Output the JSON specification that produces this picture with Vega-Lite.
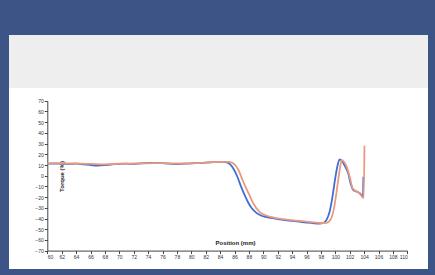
{
  "$schema": "https://vega.github.io/schema/vega-lite/v6.json",
  "background": "#3d5586",
  "padding": {"left": 9, "top": 35, "right": 7, "bottom": 6},
  "spacing": 0,
  "config": {"view": {"stroke": null}, "concat": {"spacing": 0}, "font": "Liberation Sans"},
  "vconcat": [
    {
      "width": 419,
      "height": 53,
      "view": {"fill": "#eeeeee", "stroke": null},
      "data": {"values": [{"t": ""}]},
      "mark": "text",
      "encoding": {"text": {"field": "t"}}
    },
    {
      "width": 419,
      "height": 181,
      "view": {"fill": "#ffffff", "stroke": null},
      "data": {"values": [
        {"series": "A", "position": 60, "torque": 11.2},
        {"series": "A", "position": 61, "torque": 11.4},
        {"series": "A", "position": 62, "torque": 11.3},
        {"series": "A", "position": 63, "torque": 11.0},
        {"series": "A", "position": 64, "torque": 11.2},
        {"series": "A", "position": 65, "torque": 10.6},
        {"series": "A", "position": 66, "torque": 10.0},
        {"series": "A", "position": 67, "torque": 9.4},
        {"series": "A", "position": 68, "torque": 9.8},
        {"series": "A", "position": 69, "torque": 10.6},
        {"series": "A", "position": 70, "torque": 11.0},
        {"series": "A", "position": 71, "torque": 11.2},
        {"series": "A", "position": 72, "torque": 11.0},
        {"series": "A", "position": 73, "torque": 11.6},
        {"series": "A", "position": 74, "torque": 11.8},
        {"series": "A", "position": 75, "torque": 12.0},
        {"series": "A", "position": 76, "torque": 11.8},
        {"series": "A", "position": 77, "torque": 11.2},
        {"series": "A", "position": 78, "torque": 10.8},
        {"series": "A", "position": 79, "torque": 11.3},
        {"series": "A", "position": 80, "torque": 11.6},
        {"series": "A", "position": 81, "torque": 11.8},
        {"series": "A", "position": 82, "torque": 12.2},
        {"series": "A", "position": 83, "torque": 12.6},
        {"series": "A", "position": 84, "torque": 13.0},
        {"series": "A", "position": 84.8, "torque": 12.6},
        {"series": "A", "position": 85.4, "torque": 10.5},
        {"series": "A", "position": 85.9, "torque": 6},
        {"series": "A", "position": 86.4, "torque": -1},
        {"series": "A", "position": 86.9, "torque": -10},
        {"series": "A", "position": 87.4, "torque": -18},
        {"series": "A", "position": 87.9, "torque": -25},
        {"series": "A", "position": 88.4, "torque": -30.5},
        {"series": "A", "position": 89, "torque": -34.5},
        {"series": "A", "position": 89.6, "torque": -37},
        {"series": "A", "position": 90.3, "torque": -38.5},
        {"series": "A", "position": 91, "torque": -39.5},
        {"series": "A", "position": 92, "torque": -40.5},
        {"series": "A", "position": 93, "torque": -41.5},
        {"series": "A", "position": 94, "torque": -42.2},
        {"series": "A", "position": 95, "torque": -43},
        {"series": "A", "position": 96, "torque": -43.8},
        {"series": "A", "position": 97, "torque": -44.5},
        {"series": "A", "position": 97.8, "torque": -44.8},
        {"series": "A", "position": 98.4, "torque": -44},
        {"series": "A", "position": 98.8, "torque": -41},
        {"series": "A", "position": 99.2, "torque": -34},
        {"series": "A", "position": 99.6, "torque": -20},
        {"series": "A", "position": 100, "torque": -2},
        {"series": "A", "position": 100.3, "torque": 9},
        {"series": "A", "position": 100.6, "torque": 15.3},
        {"series": "A", "position": 100.9, "torque": 14},
        {"series": "A", "position": 101.3, "torque": 9.5},
        {"series": "A", "position": 101.8, "torque": 2},
        {"series": "A", "position": 102.2, "torque": -9},
        {"series": "A", "position": 102.5, "torque": -13.5},
        {"series": "A", "position": 103, "torque": -15},
        {"series": "A", "position": 103.5, "torque": -17},
        {"series": "A", "position": 103.85, "torque": -20},
        {"series": "A", "position": 103.9, "torque": -1},
        {"series": "B", "position": 60, "torque": 11.6},
        {"series": "B", "position": 62, "torque": 11.6},
        {"series": "B", "position": 64, "torque": 11.4},
        {"series": "B", "position": 66, "torque": 11.0},
        {"series": "B", "position": 68, "torque": 10.6},
        {"series": "B", "position": 70, "torque": 11.2},
        {"series": "B", "position": 72, "torque": 11.4},
        {"series": "B", "position": 74, "torque": 11.6},
        {"series": "B", "position": 76, "torque": 11.8},
        {"series": "B", "position": 78, "torque": 11.4},
        {"series": "B", "position": 80, "torque": 11.6},
        {"series": "B", "position": 82, "torque": 12.2},
        {"series": "B", "position": 84, "torque": 13.0},
        {"series": "B", "position": 85.2, "torque": 13.0},
        {"series": "B", "position": 85.9, "torque": 11.2},
        {"series": "B", "position": 86.5, "torque": 6},
        {"series": "B", "position": 87, "torque": -2},
        {"series": "B", "position": 87.5, "torque": -10},
        {"series": "B", "position": 88, "torque": -17},
        {"series": "B", "position": 88.5, "torque": -24.5},
        {"series": "B", "position": 89, "torque": -30},
        {"series": "B", "position": 89.6, "torque": -34.5},
        {"series": "B", "position": 90.3, "torque": -37},
        {"series": "B", "position": 91, "torque": -38.5},
        {"series": "B", "position": 92, "torque": -39.8},
        {"series": "B", "position": 93, "torque": -40.8},
        {"series": "B", "position": 94, "torque": -41.5},
        {"series": "B", "position": 95, "torque": -42.3},
        {"series": "B", "position": 96, "torque": -43},
        {"series": "B", "position": 97, "torque": -43.6},
        {"series": "B", "position": 98, "torque": -44.2},
        {"series": "B", "position": 98.8, "torque": -44},
        {"series": "B", "position": 99.3, "torque": -41.5},
        {"series": "B", "position": 99.8, "torque": -31},
        {"series": "B", "position": 100.2, "torque": -14},
        {"series": "B", "position": 100.6, "torque": 5},
        {"series": "B", "position": 100.9, "torque": 14.5},
        {"series": "B", "position": 101.2, "torque": 13},
        {"series": "B", "position": 101.6, "torque": 8},
        {"series": "B", "position": 102, "torque": -1},
        {"series": "B", "position": 102.4, "torque": -11.5},
        {"series": "B", "position": 102.8, "torque": -14},
        {"series": "B", "position": 103.2, "torque": -15.5},
        {"series": "B", "position": 103.6, "torque": -18.5},
        {"series": "B", "position": 103.95, "torque": -21},
        {"series": "B", "position": 104.05, "torque": 28}
      ]},
      "mark": {"type": "line", "strokeWidth": 1.8, "interpolate": "monotone"},
      "encoding": {
        "x": {
          "field": "position", "type": "quantitative",
          "scale": {"domain": [60, 110], "range": [38.3, 398.3], "nice": false, "zero": false},
          "axis": {
            "values": [60, 62, 64, 66, 68, 70, 72, 74, 76, 78, 80, 82, 84, 86, 88, 90, 92, 94, 96, 98, 100, 102, 104, 106, 108, 110],
            "offset": -18.4, "grid": false,
            "domainColor": "#444", "tickColor": "#444", "tickSize": 3,
            "labelFontSize": 5, "labelColor": "#333", "labelPadding": 1,
            "title": "Position (mm)", "titleFontSize": 6, "titleFontWeight": "bold", "titleColor": "#222",
            "titleX": 226, "titleY": -8, "titleAlign": "center", "titleBaseline": "middle"
          }
        },
        "y": {
          "field": "torque", "type": "quantitative",
          "scale": {"domain": [-70, 70], "range": [162.6, 12.8], "nice": false, "zero": false},
          "axis": {
            "values": [-70, -60, -50, -40, -30, -20, -10, 0, 10, 20, 30, 40, 50, 60, 70],
            "offset": -38.3, "grid": false,
            "domainColor": "#444", "tickColor": "#444", "tickSize": 3,
            "labelFontSize": 5, "labelColor": "#333", "labelPadding": 1,
            "title": "Torque (%)", "titleFontSize": 6, "titleFontWeight": "bold", "titleColor": "#222",
            "titleX": 14, "titleY": 88, "titleAngle": 270, "titleAlign": "center", "titleBaseline": "middle"
          }
        },
        "color": {
          "field": "series", "type": "nominal",
          "scale": {"domain": ["A", "B"], "range": ["#3f6fd1", "#e89a80"]},
          "legend": null
        }
      }
    }
  ]
}
